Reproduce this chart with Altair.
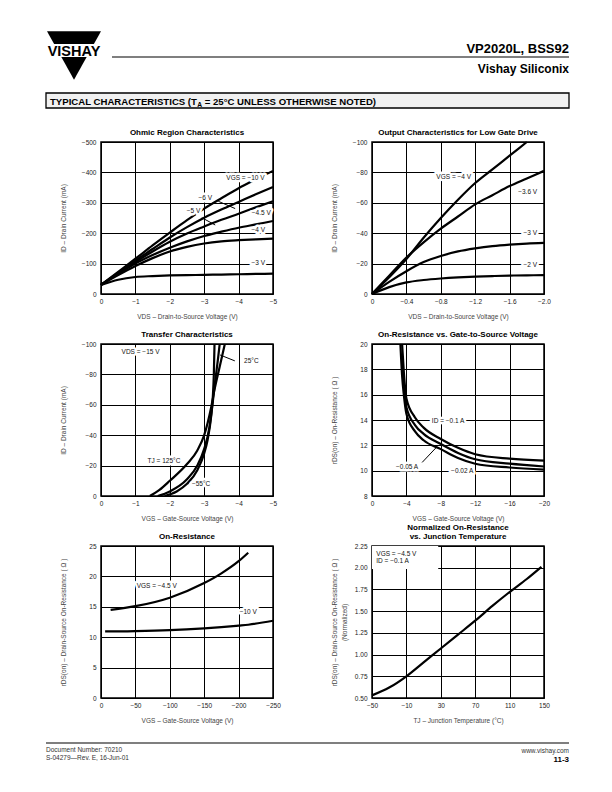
import altair as alt
import pandas as pd

FONT = "Liberation Sans"
NARROW = "'Liberation Sans Narrow', 'Liberation Sans'"

# ---------------- data ----------------
# Panel 1: Ohmic Region Characteristics (VDS in V, ID in mA)
ohm_vds = [0, -0.5, -1, -1.5, -2, -2.5, -3, -3.5, -4, -4.5, -5]
ohm_10v = [-30, -73, -116, -160, -202, -243, -281, -315, -348, -377, -405]
ohm_6v = [-30, -70, -110, -148, -186, -220, -251, -278, -303, -328, -352]
ohm_5v = [-30, -68, -105, -140, -172, -199, -222, -244, -264, -285, -305]
ohm_45v = [-30, -66, -100, -128, -152, -173, -191, -205, -218, -229, -240]
ohm_4v = [-30, -62, -92, -118, -140, -155, -166, -173, -177, -180, -182]
ohm_3v = [-30, -47, -56, -59, -61, -62, -63, -64, -65, -66, -67]

# Panel 2: Output Characteristics for Low Gate Drive
out_vds = [0, -0.2, -0.4, -0.6, -0.8, -1.0, -1.2, -1.4, -1.6, -1.8, -2.0]
out_4v = [0, -11, -23, -37, -50, -62, -73, -82, -91, -100, None]
out_36v = [0, -12, -24, -34, -43, -51, -59, -65, -71, -76, -81]
out_3v = [0, -8, -15, -21, -25, -28, -30, -31.5, -32.5, -33.2, -33.6]
out_2v = [0, -4.5, -7.6, -9.2, -10.2, -10.9, -11.4, -11.8, -12.1, -12.3, -12.4]

# Panel 3: Transfer Characteristics (VGS in V, ID in mA)
tr_m55_vgs = [-1.85, -2.2, -2.5, -2.8, -3.0, -3.1, -3.2, -3.25, -3.28, -3.3]
tr_m55_id = [0, -3, -8, -17, -28, -37, -52, -65, -80, -100]
tr_25_vgs = [-1.65, -2.0, -2.5, -2.8, -3.0, -3.15, -3.25, -3.3, -3.4, -3.45]
tr_25_id = [0, -3, -11, -20, -31, -45, -62, -72, -90, -100]
tr_125_vgs = [-1.42, -1.7, -2.0, -2.5, -2.8, -3.0, -3.2, -3.3, -3.45, -3.6]
tr_125_id = [0, -4, -10, -21, -30, -40, -58, -70, -85, -100]

# Panel 4: On-Resistance vs. Gate-to-Source Voltage
or_vgs = [-3.3, -3.5, -3.7, -4, -5, -6, -8, -10, -12, -16, -20]
or_01a = [None, 20, 17.8, 15.7, 14.2, 13.4, 12.5, 11.8, 11.3, 10.95, 10.8]
or_005a = [None, 18.8, 16.8, 15.0, 13.6, 12.9, 12.1, 11.4, 10.9, 10.55, 10.33]
or_002a = [20, 17.5, 16.0, 14.5, 13.1, 12.4, 11.7, 11.0, 10.55, 10.25, 10.08]

# Panel 5: On-Resistance vs. VGS (large range)
ron_vgs = [-6, -14, -50, -100, -150, -175, -200, -214, -250]
ron_45v = [None, 14.5, 15.1, 16.5, 18.9, 20.5, 22.5, 23.9, None]
ron_10v = [10.95, 10.95, 11.0, 11.15, 11.45, 11.65, 11.9, 12.05, 12.7]

# Panel 6: Normalized On-Resistance vs. Junction Temperature
nt_tj = [-50, -30, -10, 10, 30, 50, 70, 90, 110, 130, 147]
nt_r = [0.53, 0.62, 0.75, 0.91, 1.07, 1.23, 1.39, 1.56, 1.72, 1.87, 2.01]

# annotation texts (data coordinates)
p1_labels = [("VGS = −10 V", -4.2, -383), ("−6 V", -3.03, -316), ("−5 V", -2.69, -273),
             ("−4.5 V", -4.66, -265), ("−4 V", -4.57, -210), ("−3 V", -4.57, -102)]
p1_leaders = [(-3.41, -305, -3.9, -281), (-2.93, -251, -3.32, -227)]
p2_labels = [("VGS = −4 V", -0.95, -77), ("−3.6 V", -1.81, -67), ("−3 V", -1.84, -40), ("−2 V", -1.84, -19.3)]
p3_labels = [("VDS = −15 V", -1.15, -94.6), ("25°C", -4.37, -88.7), ("TJ = 125°C", -1.83, -23), ("−55°C", -2.91, -7.8)]
p3_leaders = [(-3.46, -92.8, -3.89, -88.9)]
p4_labels = [("ID = −0.1 A", -8.85, 13.92), ("−0.05 A", -4.08, 10.29), ("−0.02 A", -10.49, 10.0)]
p4_leaders = [(-5.83, 10.65, -7.57, 11.9)]
p5_labels = [("VGS = −4.5 V", -81, 18.34), ("−10 V", -214, 14.07)]
p6_labels = [("VGS = −4.5 V", -45, 2.157), ("ID = −0.1 A", -45, 2.078)]
p6_box = [(-50, 1.985, 27, 2.25)]


# ---------------- helpers ----------------
def long_df(xs, series):
    rows = []
    for name, ys in series.items():
        for x, y in zip(xs, ys):
            if y is not None:
                rows.append({"x": x, "y": y, "s": name})
    return pd.DataFrame(rows)


def pair_df(series):
    rows = []
    for name, (xs, ys) in series.items():
        for x, y in zip(xs, ys):
            rows.append({"x": x, "y": y, "s": name})
    return pd.DataFrame(rows)


dummy = pd.DataFrame({"k": [0]})


def ptext(text, x, y, size=6.5, weight="normal", align="left", color="#222", font=FONT):
    return alt.Chart(dummy).mark_text(
        text=text, fontSize=size, fontWeight=weight, align=align, baseline="alphabetic",
        color=color, font=font
    ).encode(x=alt.value(x), y=alt.value(y))


def prule(x1, x2, y, width=1.2):
    return alt.Chart(dummy).mark_rule(color="black", strokeWidth=width).encode(
        x=alt.value(x1), x2=alt.value(x2), y=alt.value(y))


def prect(x1, x2, y1, y2, fill, stroke=None, sw=0):
    kw = dict(fill=fill, strokeWidth=sw)
    if stroke:
        kw["stroke"] = stroke
    return alt.Chart(dummy).mark_rect(**kw).encode(
        x=alt.value(x1), x2=alt.value(x2), y=alt.value(y1), y2=alt.value(y2))


def panel(curves, xdom, ydom, xvals, yvals, xtitle, ytitle, title, labels,
          leaders=None, boxes=None, xexpr=None, yexpr=None, align="center",
          ytitle_x=-35, extra=()):
    xaxis = dict(values=xvals, title=xtitle, labelOverlap=False, labelFlush=False,
                 labelPadding=4, titlePadding=9)
    yaxis = dict(values=yvals, title=ytitle, labelOverlap=False, labelFlush=False,
                 labelPadding=5, titleX=ytitle_x, titleLineHeight=10)
    if xexpr:
        xaxis["labelExpr"] = xexpr
    if yexpr:
        yaxis["labelExpr"] = yexpr
    xenc = alt.X("x:Q", scale=alt.Scale(domain=xdom, nice=False, zero=False), axis=alt.Axis(**xaxis))
    yenc = alt.Y("y:Q", scale=alt.Scale(domain=ydom, nice=False, zero=False), axis=alt.Axis(**yaxis))

    layers = [alt.Chart(curves).mark_line(color="black", strokeWidth=2.2, interpolate="monotone").encode(
        x=xenc, y=yenc, detail="s:N")]
    if boxes:
        bdf = pd.DataFrame(boxes, columns=["x", "y", "x2", "y2"])
        layers.append(alt.Chart(bdf).mark_rect(fill="white").encode(
            x=xenc, x2="x2:Q", y=yenc, y2="y2:Q"))
    if leaders:
        ldf = pd.DataFrame(leaders, columns=["x", "y", "x2", "y2"])
        layers.append(alt.Chart(ldf).mark_rule(color="black", strokeWidth=1).encode(
            x=xenc, x2="x2:Q", y=yenc, y2="y2:Q"))
    tdf = pd.DataFrame(labels, columns=["t", "x", "y"])
    layers.append(alt.Chart(tdf).mark_text(
        font=FONT, fontSize=6.5, align=align, baseline="middle", fill="white",
        stroke="white", strokeWidth=5, strokeJoin="round").encode(x=xenc, y=yenc, text="t:N"))
    layers.append(alt.Chart(tdf).mark_text(
        font=FONT, fontSize=6.5, align=align, baseline="middle", color="#111").encode(
        x=xenc, y=yenc, text="t:N"))
    # panel title drawn as text above the plot
    tl = title if isinstance(title, list) else [title]
    for i, line in enumerate(tl):
        layers.append(ptext(line, 86, -7 - 9 * (len(tl) - 1 - i), size=8, weight="bold",
                            align="center", color="black"))
    layers.extend(extra)
    return alt.layer(*layers).properties(width=172, height=152)


# ---------------- header (relative to panel 1 origin) ----------------
HS = 9.6
sub_x = -51 + 15.333 * HS
header = [
    alt.Chart(dummy).mark_point(shape="M-1,-0.9L1,-0.9L0,0.9Z", filled=True, size=2916,
                                color="black", opacity=1, strokeWidth=0).encode(
        x=alt.value(-27), y=alt.value(-86.5)),
    prect(-54, 1, -98, -85, "white"),
    ptext("VISHAY", -27, -86, size=14.5, weight="bold", align="center", color="black", font=NARROW),
    prule(11, 468, -85, 1.2),
    ptext("VP2020L, BSS92", 468, -89, size=13, weight="bold", align="right", color="black"),
    ptext("Vishay Siliconix", 468, -69, size=12, weight="bold", align="right", color="black"),
    prect(-55, 468, -49, -34, "#f1f1f1", stroke="black", sw=1.3),
    ptext("TYPICAL CHARACTERISTICS (T", -51, -37.5, size=HS, weight="bold", color="black"),
    ptext("A", sub_x, -35.5, size=6.7, weight="bold", color="black"),
    ptext("= 25°C UNLESS OTHERWISE NOTED)", sub_x + 0.722 * 6.7 + 0.278 * HS, -37.5,
          size=HS, weight="bold", color="black"),
]

# ---------------- footer (relative to panel 5 origin) ----------------
footer = [
    prule(-55, 468, 197, 1.2),
    ptext("Document Number:  70210", -55, 206, size=6.5, color="#333"),
    ptext("S-04279—Rev. E, 16-Jun-01", -55, 214, size=6.5, color="#333"),
    ptext("www.vishay.com", 468, 207, size=6.5, align="right", color="#333"),
    ptext("11-3", 468, 216, size=8, weight="bold", align="right", color="black"),
]

# ---------------- panels ----------------
p1 = panel(long_df(ohm_vds, {"-10": ohm_10v, "-6": ohm_6v, "-5": ohm_5v, "-4.5": ohm_45v,
                             "-4": ohm_4v, "-3": ohm_3v}),
           [0, -5], [0, -500], [0, -1, -2, -3, -4, -5], [0, -100, -200, -300, -400, -500],
           "VDS  –  Drain-to-Source Voltage (V)", "ID – Drain Current (mA)",
           "Ohmic Region Characteristics", p1_labels, leaders=p1_leaders, extra=header)

p2 = panel(long_df(out_vds, {"-4": out_4v, "-3.6": out_36v, "-3": out_3v, "-2": out_2v}),
           [0, -2], [0, -100], [0, -0.4, -0.8, -1.2, -1.6, -2.0], [0, -20, -40, -60, -80, -100],
           "VDS  –  Drain-to-Source Voltage (V)", "ID – Drain Current (mA)",
           "Output Characteristics for Low Gate Drive", p2_labels,
           xexpr="datum.value == 0 ? '0' : format(datum.value, '.1f')")

p3 = panel(pair_df({"-55": (tr_m55_vgs, tr_m55_id), "25": (tr_25_vgs, tr_25_id),
                    "125": (tr_125_vgs, tr_125_id)}),
           [0, -5], [0, -100], [0, -1, -2, -3, -4, -5], [0, -20, -40, -60, -80, -100],
           "VGS – Gate-Source Voltage (V)", "ID – Drain Current (mA)",
           "Transfer Characteristics", p3_labels, leaders=p3_leaders)

p4 = panel(long_df(or_vgs, {"0.1": or_01a, "0.05": or_005a, "0.02": or_002a}),
           [0, -20], [8, 20], [0, -4, -8, -12, -16, -20], [8, 10, 12, 14, 16, 18, 20],
           "VGS – Gate-Source Voltage (V)", "rDS(on) – On-Resistance ( Ω )",
           "On-Resistance vs. Gate-to-Source Voltage", p4_labels, leaders=p4_leaders)

p5 = panel(long_df(ron_vgs, {"-4.5": ron_45v, "-10": ron_10v}),
           [0, -250], [0, 25], [0, -50, -100, -150, -200, -250], [0, 5, 10, 15, 20, 25],
           "VGS – Gate-Source Voltage (V)", "rDS(on) – Drain-Source On-Resistance ( Ω )",
           "On-Resistance", p5_labels, extra=footer)

p6 = panel(long_df(nt_tj, {"n": nt_r}),
           [-50, 150], [0.5, 2.25], [-50, -10, 30, 70, 110, 150],
           [0.5, 0.75, 1.0, 1.25, 1.5, 1.75, 2.0, 2.25],
           "TJ  –  Junction Temperature (°C)",
           ["rDS(on) – Drain-Source On-Resistance ( Ω )", "(Normalized)"],
           ["Normalized On-Resistance", "vs. Junction Temperature"], p6_labels,
           boxes=p6_box, align="left", yexpr="format(datum.value, '.2f')")

chart = alt.concat(p1, p2, p3, p4, p5, p6, columns=2, spacing={"row": 50, "column": 99},
                   bounds="flush").properties(
    padding={"left": 36, "top": 22, "right": 5, "bottom": 5}
).configure(font=FONT).configure_view(
    stroke="black", strokeWidth=1.5
).configure_axis(
    grid=True, gridColor="black", gridWidth=1, gridOpacity=1, domain=False, ticks=False,
    labelFont=FONT, labelFontSize=6.5, labelColor="#222",
    titleFont=FONT, titleFontSize=6.5, titleFontWeight="normal", titleColor="#444"
)

chart.save("out.html", embed_options={"renderer": "svg", "actions": False})
